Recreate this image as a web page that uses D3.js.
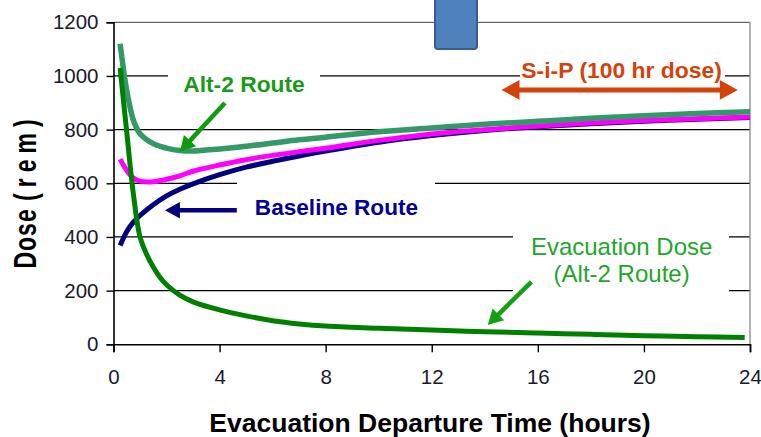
<!DOCTYPE html>
<html>
<head>
<meta charset="utf-8">
<script src="https://cdn.jsdelivr.net/npm/d3@7"></script>
<style>
  html, body { margin: 0; padding: 0; background: #fff; }
  svg { display: block; font-family: "Liberation Sans", Arial, sans-serif; }
</style>
</head>
<body>
<svg id="chart" width="761" height="437"></svg>
<script>
// ---- data ----
const hours = [0.25, 0.5, 0.75, 1, 1.5, 2, 2.5, 3, 4, 5, 6, 7, 8, 10, 12, 14, 16, 18, 20, 22, 24];
const alt2Route = [1120, 945, 835, 785, 748, 731, 722, 720, 728, 738, 750, 762, 772, 792, 806, 820, 831, 842, 852, 860, 867];
const sipMagenta = [690, 648, 620, 608, 606, 615, 628, 645, 668, 688, 704, 718, 731, 760, 784, 800, 813, 825, 834, 841, 847];
const baselineRoute = [368, 420, 455, 480, 520, 553, 578, 598, 632, 660, 682, 702, 720, 753, 778, 797, 811, 822, 831, 839, 845];
const evacHours = [0.25, 0.5, 0.75, 1, 1.25, 1.5, 1.75, 2, 2.5, 3, 4, 5, 6, 7, 8, 10, 12, 14, 16, 18, 20, 22, 23.8];
const evacDose = [1030, 790, 560, 400, 335, 288, 250, 222, 183, 158, 128, 106, 88, 76, 68, 60, 53, 47, 42, 37, 32, 28, 25];
const xTicks = [0, 4, 8, 12, 16, 20, 24];
const yTicks = [0, 200, 400, 600, 800, 1000, 1200];

const svg = d3.select("#chart");
const x = d3.scaleLinear().domain([0, 24]).range([113.5, 750]);
const y = d3.scaleLinear().domain([0, 1200]).range([344.3, 22.3]);

// gridlines
svg.append("g").selectAll("line").data(yTicks.filter(v => v > 0)).join("line")
  .attr("x1", x(0)).attr("x2", x(24))
  .attr("y1", d => y(d)).attr("y2", d => y(d))
  .attr("stroke", d => d === 1200 ? "#666" : "#000")
  .attr("stroke-width", 1.3);
// right border
svg.append("line").attr("x1", x(24)).attr("x2", x(24)).attr("y1", y(1200)).attr("y2", y(0))
  .attr("stroke", "#888").attr("stroke-width", 1.3);

// white label boxes hiding gridlines
const boxes = [
  {x0: 168, x1: 320, y0: 64, y1: 100},
  {x0: 237, x1: 435, y0: 178, y1: 230},
  {x0: 513, x1: 729, y0: 226, y1: 298},
  {x0: 520, x1: 725, y0: 56, y1: 82}
];
svg.append("g").selectAll("rect").data(boxes).join("rect")
  .attr("x", d => d.x0).attr("y", d => d.y0)
  .attr("width", d => d.x1 - d.x0).attr("height", d => d.y1 - d.y0)
  .attr("fill", "#fff");

// axes
const yAxis = svg.append("g").attr("transform", `translate(${x(0)},0)`)
  .call(d3.axisLeft(y).tickValues(yTicks).tickSize(7).tickPadding(8).tickFormat(d3.format("d")));
const xAxis = svg.append("g").attr("transform", `translate(0,${y(0)})`)
  .call(d3.axisBottom(x).tickValues(xTicks).tickSize(8).tickPadding(17).tickFormat(d3.format("d")));
[yAxis, xAxis].forEach(a => {
  a.select(".domain").attr("stroke", "#000").attr("stroke-width", 1.6);
  a.selectAll(".tick line").attr("stroke", "#000").attr("stroke-width", 1.4);
  a.selectAll(".tick text").attr("fill", "#1a1a2e").style("font-size", "20.5px")
    .style("font-family", "'Liberation Sans', Arial, sans-serif");
});

// lines
const line = d3.line().x(d => x(d[0])).y(d => y(d[1])).curve(d3.curveCatmullRom.alpha(0.5));
const series = [
  {h: hours, v: baselineRoute, c: "#000080", w: 5},
  {h: hours, v: sipMagenta, c: "#ff00ff", w: 5},
  {h: hours, v: alt2Route, c: "#339966", w: 5.5},
  {h: evacHours, v: evacDose, c: "#008000", w: 5}
];
svg.append("g").selectAll("path").data(series).join("path")
  .attr("d", s => line(s.h.map((t, i) => [t, s.v[i]])))
  .attr("fill", "none").attr("stroke", s => s.c).attr("stroke-width", s => s.w)
  .attr("stroke-linejoin", "round");

// arrows (data coords)
function arrow(t0, v0, t1, v1, color, w, head, both) {
  const x0 = x(t0), y0 = y(v0), x1 = x(t1), y1 = y(v1);
  const ang = Math.atan2(y1 - y0, x1 - x0);
  const L = head, W = head * 0.55;
  const g = svg.append("g");
  function tri(px, py, a) {
    const bx = px - L * Math.cos(a), by = py - L * Math.sin(a);
    const pts = [[px, py], [bx + W * Math.sin(a), by - W * Math.cos(a)], [bx - W * Math.sin(a), by + W * Math.cos(a)]];
    g.append("polygon").attr("points", pts.map(p => p.join(",")).join(" ")).attr("fill", color);
  }
  const sx = both ? x0 + (L - 2) * Math.cos(ang) : x0, sy = both ? y0 + (L - 2) * Math.sin(ang) : y0;
  g.append("line").attr("x1", sx).attr("y1", sy)
    .attr("x2", x1 - (L - 2) * Math.cos(ang)).attr("y2", y1 - (L - 2) * Math.sin(ang))
    .attr("stroke", color).attr("stroke-width", w);
  tri(x1, y1, ang);
  if (both) tri(x0, y0, ang + Math.PI);
}
arrow(4.2, 899, 2.5, 718, "#109a10", 4.5, 15, false);
arrow(4.65, 500, 1.94, 500, "#000080", 4.5, 15, false);
arrow(15.76, 233, 14.11, 72, "#14a014", 4.5, 15, false);
arrow(14.63, 948, 23.54, 948, "#d4420c", 5, 18, true);

// labels
function label(t, v, txt, color, size, weight, anchor) {
  svg.append("text").attr("x", x(t)).attr("y", y(v)).text(txt)
    .attr("fill", color).style("font-size", size + "px").style("font-weight", weight)
    .attr("text-anchor", anchor);
}
label(4.92, 940, "Alt-2 Route", "#1a9a1a", 22.8, "bold", "middle");
label(5.33, 482, "Baseline Route", "#000099", 22.6, "bold", "start");
label(19.16, 333, "Evacuation Dose", "#1ea62a", 24, "normal", "middle");
label(19.16, 233, "(Alt-2 Route)", "#1ea62a", 24, "normal", "middle");
label(19.16, 992, "S-i-P (100 hr dose)", "#d4420c", 22.9, "bold", "middle");

// axis titles
svg.append("text").attr("x", 430).attr("y", 431.5).attr("text-anchor", "middle")
  .style("font-size", "26.5px").style("font-weight", "bold").attr("fill", "#000")
  .text("Evacuation Departure Time (hours)");
const yt = svg.append("text").attr("transform", "translate(36,191) rotate(-90) scale(1,1.38)")
  .attr("text-anchor", "middle").style("font-size", "23px").style("font-weight", "bold").attr("fill", "#000");
yt.append("tspan").style("letter-spacing", "1px").text("Dose ");
yt.append("tspan").style("letter-spacing", "6px").text("(rem)");

// blue block at top
svg.append("rect").attr("x", 435).attr("y", -6).attr("width", 42).attr("height", 55).attr("rx", 3)
  .attr("fill", "#4f81bd").attr("stroke", "#385d8a").attr("stroke-width", 2);
</script>
</body>
</html>
